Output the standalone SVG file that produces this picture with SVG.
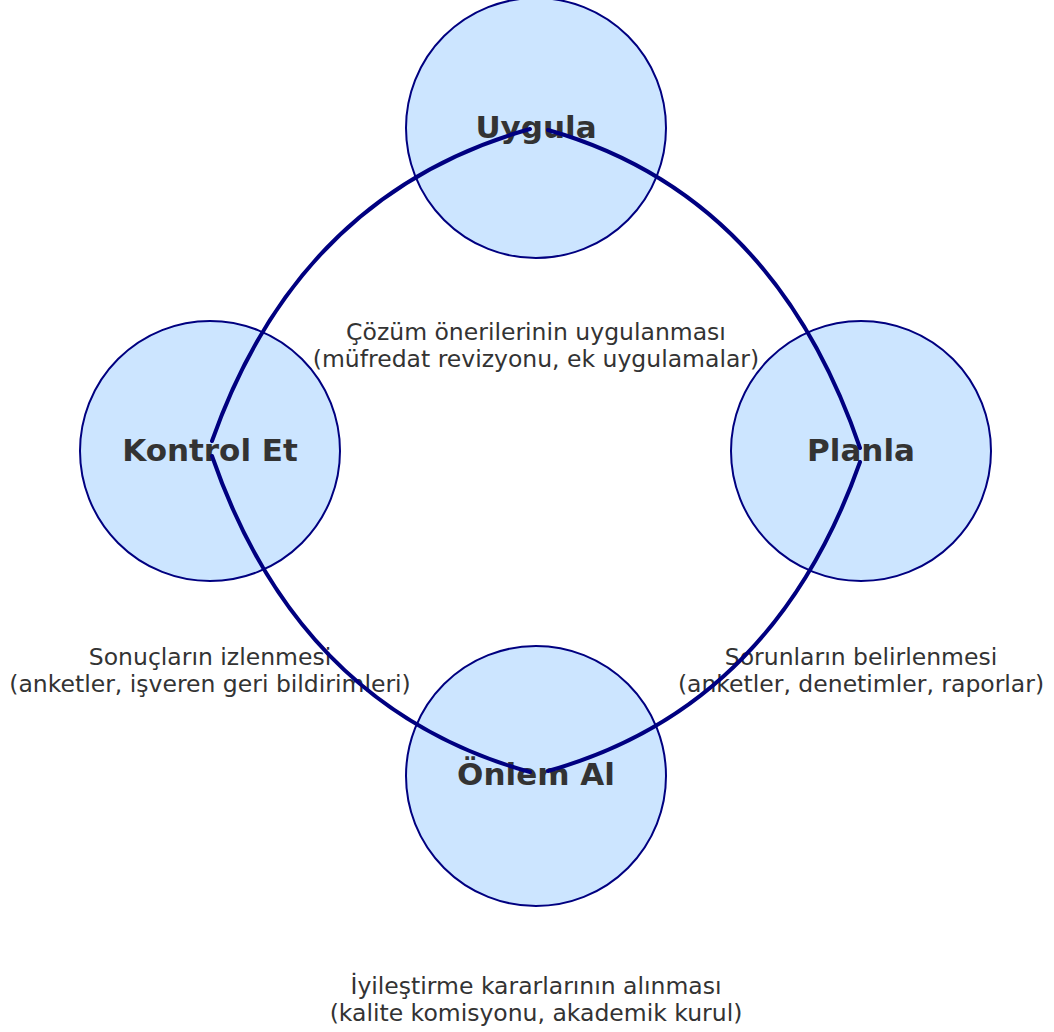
<svg xmlns="http://www.w3.org/2000/svg" width="1054" height="1032" viewBox="0 0 1054 1032">
<style>
.node{fill:#cce5ff;stroke:#000080;stroke-width:2}
.nl{font-family:"DejaVu Sans",sans-serif;font-weight:bold;font-size:31px;fill:#333333;text-anchor:middle}
.el{font-family:"DejaVu Sans",sans-serif;font-size:23.5px;fill:#333333;text-anchor:middle}
.edge{fill:none;stroke:#000080;stroke-width:4;stroke-linecap:round}
</style>
<rect width="1054" height="1032" fill="#ffffff"/>
<g id="node-uygula"><circle class="node" cx="536" cy="128" r="130"/><text class="nl" x="536" y="138">Uygula</text></g>
<g id="node-planla"><circle class="node" cx="861" cy="451" r="130"/><text class="nl" x="861" y="461">Planla</text></g>
<g id="node-onlem"><circle class="node" cx="536" cy="776" r="130"/><text class="nl" x="536" y="785">Önlem Al</text></g>
<g id="node-kontrol"><circle class="node" cx="210" cy="451" r="130"/><text class="nl" x="210" y="461">Kontrol Et</text></g>
<g id="edge-labels">
<text class="el" x="536" y="340">Çözüm önerilerinin uygulanması</text>
<text class="el" x="536" y="367">(müfredat revizyonu, ek uygulamalar)</text>
<text class="el" x="210" y="665">Sonuçların izlenmesi</text>
<text class="el" x="210" y="692">(anketler, işveren geri bildirimleri)</text>
<text class="el" x="861" y="665">Sorunların belirlenmesi</text>
<text class="el" x="861" y="692">(anketler, denetimler, raporlar)</text>
<text class="el" x="536" y="994">İyileştirme kararlarının alınması</text>
<text class="el" x="536" y="1021">(kalite komisyonu, akademik kurul)</text>
</g>
<g id="connectors">
<path class="edge" d="M860,448 Q773,194 548,130"/>
<path class="edge" d="M530,129 Q299,194 212,441"/>
<path class="edge" d="M212,456 Q299,708 530,772"/>
<path class="edge" d="M548,771 Q773,708 860,462"/>
</g>
</svg>
